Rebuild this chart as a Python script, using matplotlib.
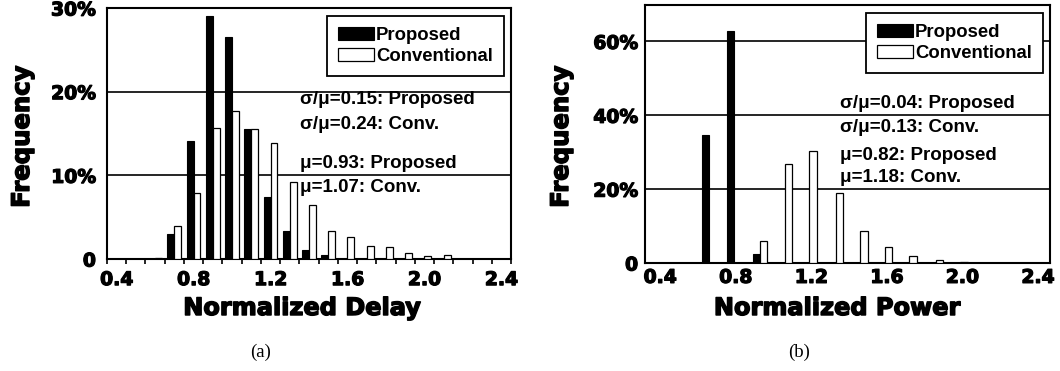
import numpy as np
import matplotlib
matplotlib.use('Agg')
import matplotlib.pyplot as plt
import matplotlib.patheffects as pe

W, H = 1060, 371

# delay histogram, 0.1 wide bins (percent of samples)
delay_bins = [0.6, 0.7, 0.8, 0.9, 1.0, 1.1, 1.2, 1.3, 1.4, 1.5, 1.6, 1.7, 1.8, 1.9, 2.0, 2.1]
delay_prop = [0.0, 3.0, 14.1, 29.0, 26.5, 15.5, 7.4, 3.3, 1.1, 0.5, 0, 0, 0, 0, 0, 0]
delay_conv = [0.15, 3.9, 7.9, 15.6, 17.7, 15.5, 13.9, 9.2, 6.4, 3.3, 2.6, 1.5, 1.4, 0.7, 0.35, 0.45]

# power histogram
power_bins = [0.66, 0.79, 0.93, 1.06, 1.19, 1.33, 1.46, 1.59, 1.72, 1.86, 1.99]
power_prop = [34.7, 62.7, 2.4, 0, 0, 0, 0, 0, 0, 0, 0]
power_conv = [0, 0, 6.0, 26.8, 30.2, 18.9, 8.8, 4.2, 2.0, 0.9, 0.3]

xticks = [0.4, 0.8, 1.2, 1.6, 2.0, 2.4]
xticklabels = ['0.4', '0.8', '1.2', '1.6', '2.0', '2.4']

delay_stats = ['\u03c3/\u03bc=0.15: Proposed', '\u03c3/\u03bc=0.24: Conv.',
               '\u03bc=0.93: Proposed', '\u03bc=1.07: Conv.']
power_stats = ['\u03c3/\u03bc=0.04: Proposed', '\u03c3/\u03bc=0.13: Conv.',
               '\u03bc=0.82: Proposed', '\u03bc=1.18: Conv.']

plt.rcParams['font.family'] = 'DejaVu Sans'
plt.rcParams['font.weight'] = 'bold'

# extra-heavy look for ticks and axis titles
heavy = [pe.withStroke(linewidth=0.9, foreground='black')]
heavier = [pe.withStroke(linewidth=1.05, foreground='black')]

fig = plt.figure(figsize=(W / 100, H / 100), dpi=100)


def px_axes(left, right, top, bottom):
    return fig.add_axes([left / W, 1 - bottom / H, (right - left) / W, (bottom - top) / H])


def draw_panel(ax, bins, prop, conv, bw, ymax, yticks, ylabels, xlim, ypad, xpad):
    b = np.array(bins)
    ax.bar(b - bw / 2, prop, width=bw, color='black', edgecolor='black', lw=0.8,
           label='Proposed', zorder=3)
    ax.bar(b + bw / 2, conv, width=bw, color='white', edgecolor='black', lw=0.9,
           label='Conventional', zorder=3)
    ax.set_xlim(*xlim)
    ax.set_ylim(0, ymax)
    ax.set_yticks(yticks)
    ax.set_yticklabels(ylabels)
    ax.set_xticks(xticks)
    ax.set_xticklabels(xticklabels)
    ax.tick_params(axis='y', length=0, pad=ypad, labelsize=13.5)
    ax.tick_params(axis='x', which='major', length=0, pad=xpad, labelsize=13.5)
    for lab in ax.get_xticklabels() + ax.get_yticklabels():
        lab.set_path_effects(heavy)
    ax.yaxis.grid(True, color='black', lw=1.2, zorder=1)
    ax.set_axisbelow(True)
    for s in ax.spines.values():
        s.set_linewidth(1.5)
    leg = ax.legend(loc='upper right', bbox_to_anchor=(0.982, 0.968), frameon=True,
                    fancybox=False, framealpha=1, edgecolor='black',
                    prop={'family': 'Liberation Sans', 'weight': 'bold', 'size': 13.3},
                    handlelength=1.95, handleheight=0.72, handletextpad=0.1,
                    labelspacing=0.2, borderpad=0.6, borderaxespad=0)
    leg.get_frame().set_linewidth(1.3)


# (a) delay
ax1 = px_axes(107, 511, 8, 259)
draw_panel(ax1, delay_bins, delay_prop, delay_conv, 0.036, 30,
           [0, 10, 20, 30], ['0', '10%', '20%', '30%'], (0.35, 2.45), 8, 8)
ax1.set_xticks(np.arange(0.35, 2.46, 0.1), minor=True)
ax1.tick_params(axis='x', which='minor', direction='out', length=3.8, width=1.2)

# (b) power
ax2 = px_axes(645, 1050, 4.5, 263)
draw_panel(ax2, power_bins, power_prop, power_conv, 0.038, 70,
           [0, 20, 40, 60], ['0', '20%', '40%', '60%'], (0.32, 2.464), 5, 3.5)
ax2.tick_params(axis='x', which='minor', length=0)

# stats text
for txt, y in zip(delay_stats, [100, 124, 163, 188]):
    fig.text(300 / W, 1 - y / H, txt, ha='left', va='center',
             family='Liberation Sans', weight='bold', size=13.5)
for txt, y in zip(power_stats, [104, 127, 155, 178]):
    fig.text(840 / W, 1 - y / H, txt, ha='left', va='center',
             family='Liberation Sans', weight='bold', size=13.5)

# axis titles
for x in [22, 561]:
    fig.text(x / W, 1 - 137 / H, 'Frequency', rotation=90, ha='center', va='center',
             size=17.5, weight='bold', path_effects=heavier)
fig.text(302 / W, 1 - 308 / H, 'Normalized Delay', ha='center', va='center',
         size=17.3, weight='bold', path_effects=heavier)
fig.text(837 / W, 1 - 308 / H, 'Normalized Power', ha='center', va='center',
         size=17.3, weight='bold', path_effects=heavier)

fig.text(261 / W, 1 - 352 / H, '(a)', ha='center', va='center',
         family='Liberation Serif', weight='normal', size=13.5)
fig.text(799 / W, 1 - 352 / H, '(b)', ha='center', va='center',
         family='Liberation Serif', weight='normal', size=13.5)

fig.savefig('out.png', dpi=100)
